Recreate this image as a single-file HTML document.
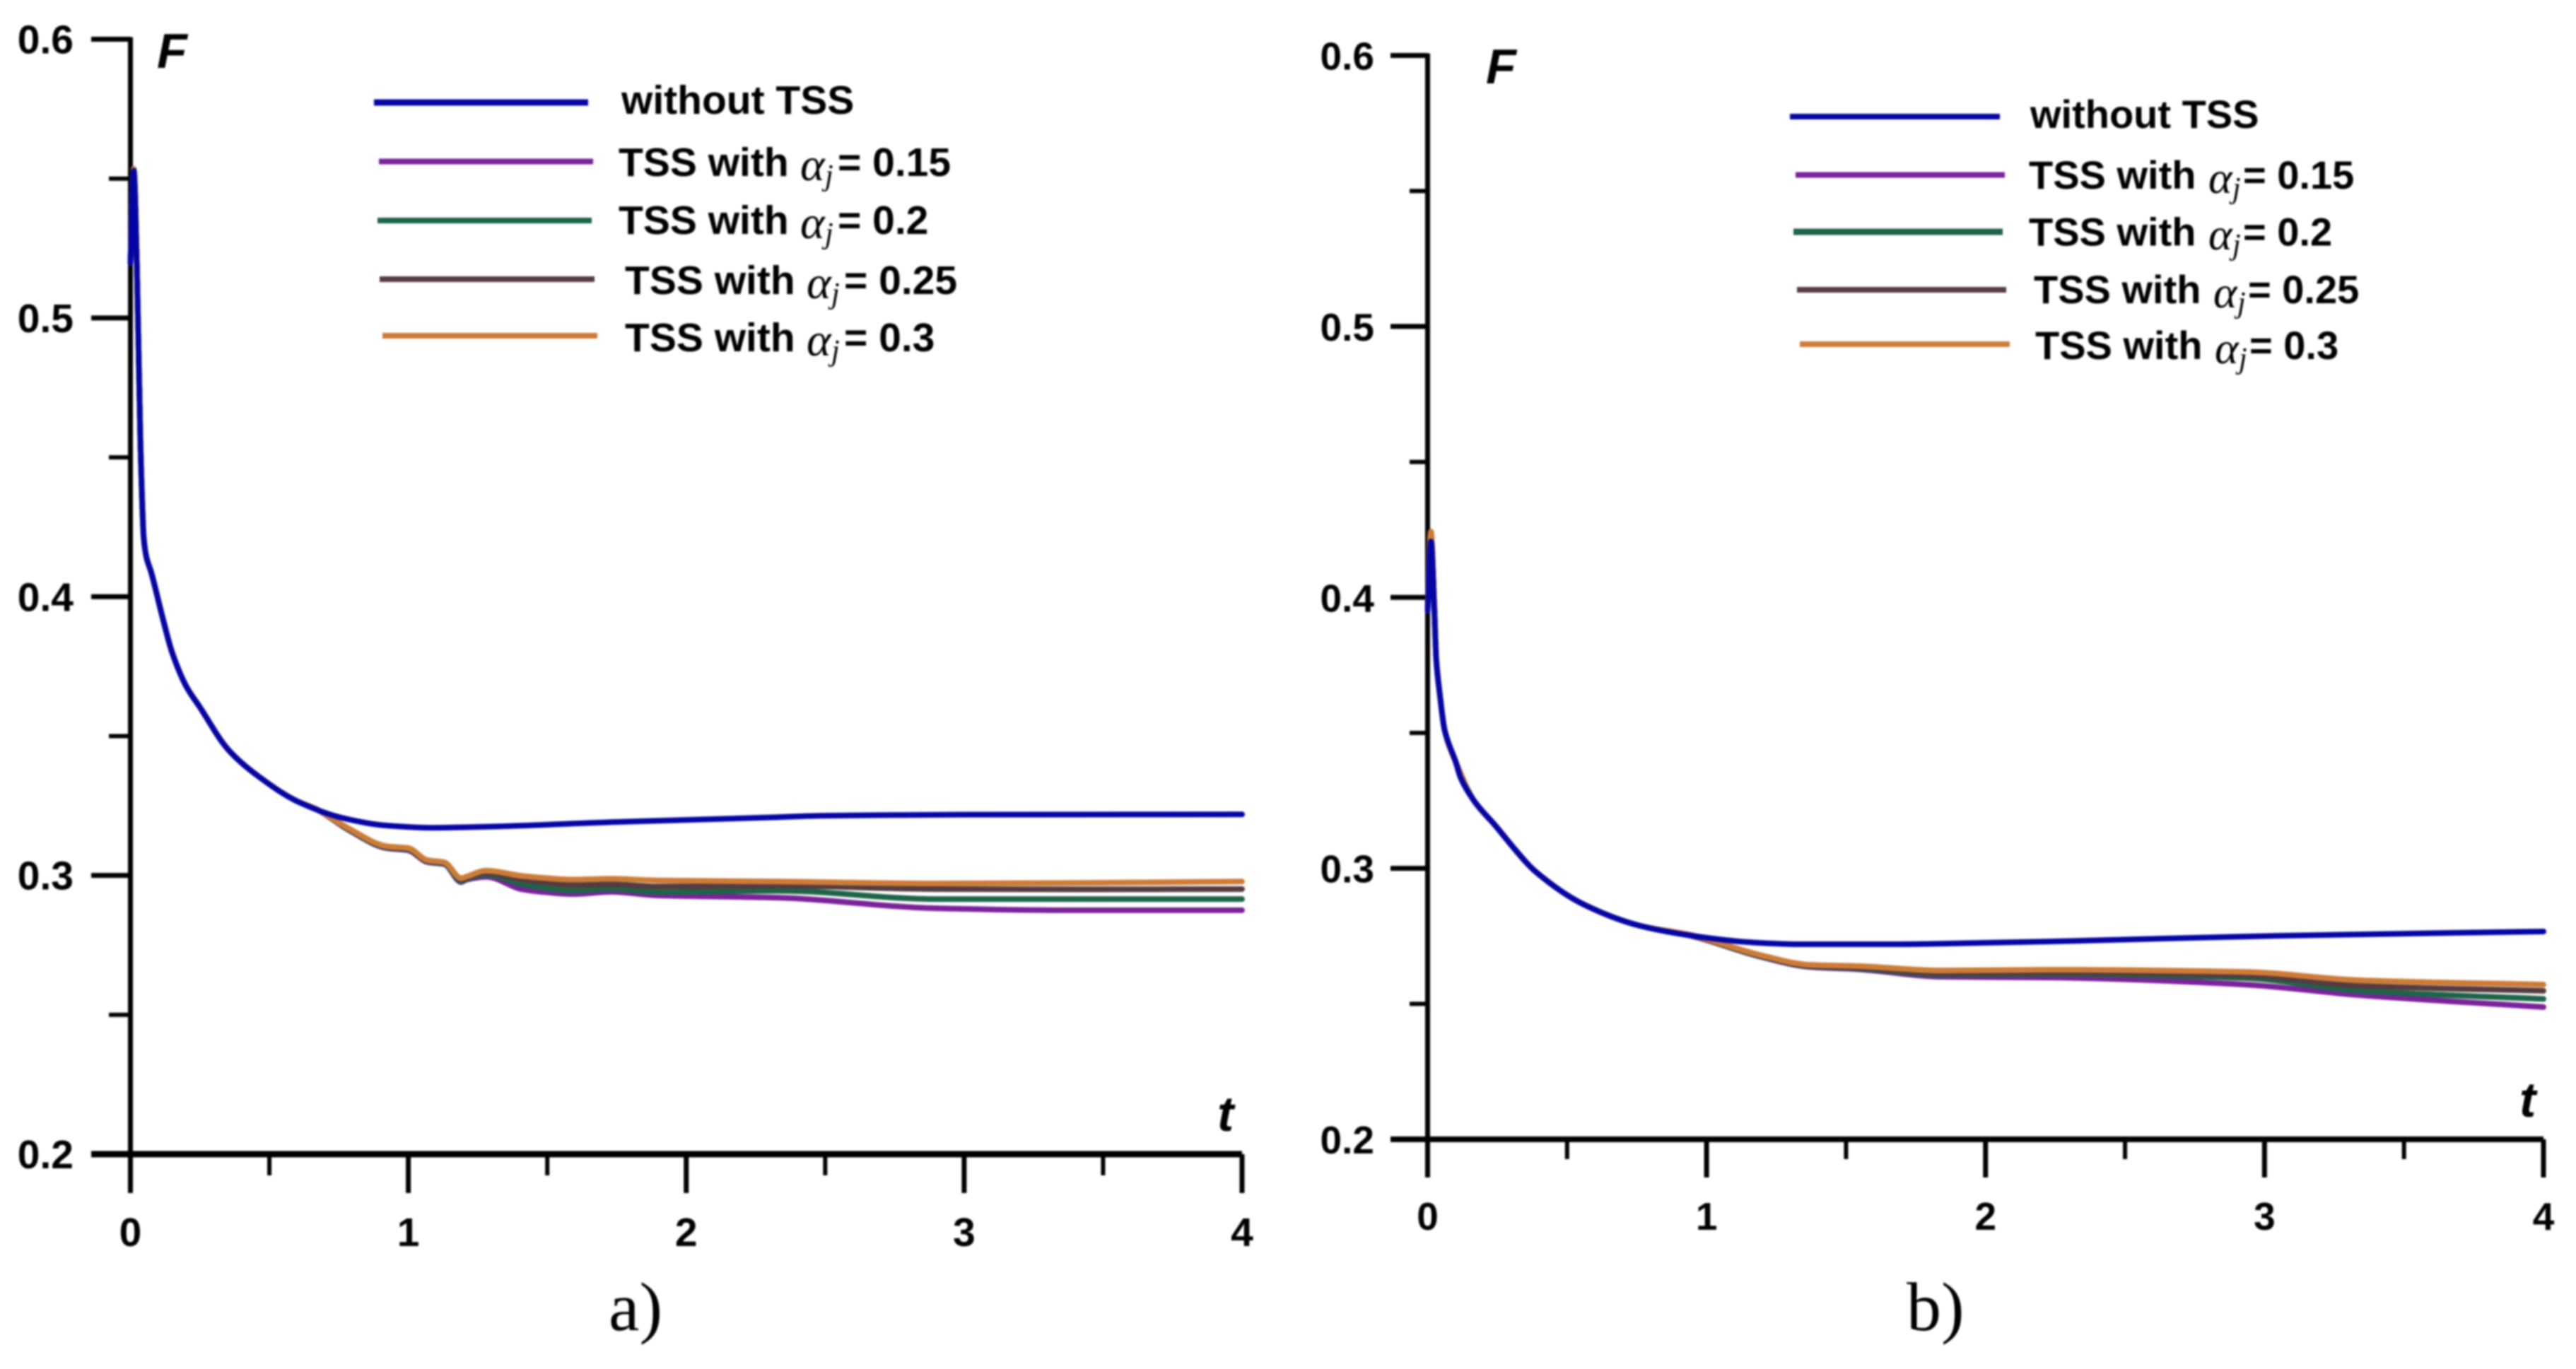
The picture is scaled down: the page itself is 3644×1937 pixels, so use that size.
<!DOCTYPE html>
<html lang="en">
<head>
<meta charset="utf-8">
<title>F versus t, with and without TSS</title>
<style>
html,body{margin:0;padding:0;background:#fff;}
#figure{display:block;width:3644px;height:1937px;filter:blur(1.2px);}
.sans{font-family:"Liberation Sans",Arial,sans-serif;font-weight:bold;fill:#000;}
.greek{font-family:"Liberation Serif","DejaVu Serif",serif;font-style:italic;font-weight:normal;fill:#000;}
.cap{font-family:"Liberation Serif",serif;font-weight:normal;fill:#000;font-size:98px;}
.axis-title{font-family:"Liberation Sans",Arial,sans-serif;font-weight:bold;font-style:italic;fill:#000;font-size:70px;}
</style>
</head>
<body>
<svg id="figure" xmlns="http://www.w3.org/2000/svg" width="3644" height="1937" viewBox="0 0 3644 1937">
  <rect x="0" y="0" width="3644" height="1937" fill="#fff"/>
  <g id="panel-a">
    <g id="panel-a-marks"></g>
    <text class="axis-title" x="222" y="96">F</text>
    <text class="axis-title" x="1722" y="1600">t</text>
    <g font-size="57">
      <line x1="529" x2="832" y1="145" y2="145" stroke="#0505a5" stroke-width="9"/>
      <line x1="536" x2="839" y1="228.5" y2="228.5" stroke="#7a2299" stroke-width="8"/>
      <line x1="534" x2="837" y1="312" y2="312" stroke="#1e6448" stroke-width="8"/>
      <line x1="537" x2="841" y1="395" y2="395" stroke="#553c40" stroke-width="8"/>
      <line x1="541" x2="845" y1="475" y2="475" stroke="#cd7c38" stroke-width="8"/>
      <text class="sans" x="879" y="161">without TSS</text>
      <text class="sans" x="875" y="249">TSS with <tspan class="greek" x="1132" y="255" font-size="66">α</tspan><tspan class="greek" x="1167" y="262" font-size="42">j</tspan><tspan x="1185" y="249">= 0.15</tspan></text>
      <text class="sans" x="875" y="331">TSS with <tspan class="greek" x="1132" y="337" font-size="66">α</tspan><tspan class="greek" x="1167" y="344" font-size="42">j</tspan><tspan x="1185" y="331">= 0.2</tspan></text>
      <text class="sans" x="884" y="416">TSS with <tspan class="greek" x="1141" y="422" font-size="66">α</tspan><tspan class="greek" x="1176" y="429" font-size="42">j</tspan><tspan x="1194" y="416">= 0.25</tspan></text>
      <text class="sans" x="884" y="497">TSS with <tspan class="greek" x="1141" y="503" font-size="66">α</tspan><tspan class="greek" x="1176" y="510" font-size="42">j</tspan><tspan x="1194" y="497">= 0.3</tspan></text>
    </g>
    <text class="cap" x="861" y="1882">a)</text>
  </g>
  <g id="panel-b">
    <g id="panel-b-marks"></g>
    <text class="axis-title" x="2102" y="118">F</text>
    <text class="axis-title" x="3564" y="1580">t</text>
    <g font-size="56">
      <line x1="2532" x2="2829" y1="165" y2="165" stroke="#0505a5" stroke-width="8"/>
      <line x1="2540" x2="2836" y1="247.5" y2="247.5" stroke="#7a2299" stroke-width="8"/>
      <line x1="2537" x2="2833" y1="328" y2="328" stroke="#1e6448" stroke-width="9"/>
      <line x1="2542" x2="2838" y1="410" y2="410" stroke="#553c40" stroke-width="8"/>
      <line x1="2546" x2="2843" y1="487" y2="487" stroke="#cd7c38" stroke-width="8"/>
      <text class="sans" x="2872" y="181">without TSS</text>
      <text class="sans" x="2870" y="267">TSS with <tspan class="greek" x="3124" y="273" font-size="64">α</tspan><tspan class="greek" x="3158" y="280" font-size="42">j</tspan><tspan x="3173" y="267">= 0.15</tspan></text>
      <text class="sans" x="2870" y="347.5">TSS with <tspan class="greek" x="3124" y="353" font-size="64">α</tspan><tspan class="greek" x="3158" y="360" font-size="42">j</tspan><tspan x="3173" y="347.5">= 0.2</tspan></text>
      <text class="sans" x="2877" y="429">TSS with <tspan class="greek" x="3131" y="435" font-size="64">α</tspan><tspan class="greek" x="3165" y="442" font-size="42">j</tspan><tspan x="3180" y="429">= 0.25</tspan></text>
      <text class="sans" x="2879" y="508">TSS with <tspan class="greek" x="3133" y="514" font-size="64">α</tspan><tspan class="greek" x="3167" y="521" font-size="42">j</tspan><tspan x="3182" y="508">= 0.3</tspan></text>
    </g>
    <text class="cap" x="2697" y="1882">b)</text>
  </g>
</svg>
<script>
// Shared axis values
const yMajorTicks = [0.2, 0.3, 0.4, 0.5, 0.6];
const yMinorTicks = [0.25, 0.35, 0.45, 0.55];
const yTickLabels = ['0.2', '0.3', '0.4', '0.5', '0.6'];
const xMajorTicks = [0, 1, 2, 3, 4];
const xMinorTicks = [0.5, 1.5, 2.5, 3.5];
const xTickLabels = ['0', '1', '2', '3', '4'];

// Panel a: without TSS
const tBlueA = [0, 0.012, 0.023, 0.036, 0.048, 0.058, 0.074, 0.117, 0.15, 0.2, 0.249, 0.353, 0.468, 0.598, 0.76, 0.92, 1.083, 1.327, 1.73, 2.33, 2.48, 3.0, 4.0];
const fBlueA = [0.5196, 0.5528, 0.52, 0.455, 0.421, 0.414, 0.409, 0.392, 0.38, 0.368, 0.3605, 0.345, 0.335, 0.3267, 0.3207, 0.3179, 0.3171, 0.3176, 0.3191, 0.3209, 0.3214, 0.3218, 0.3219];

// Panel a: TSS series
const tTssA = [0, 0.012, 0.023, 0.036, 0.048, 0.058, 0.074, 0.117, 0.15, 0.2, 0.249, 0.353, 0.468, 0.598, 0.67, 0.79, 0.92, 1.0, 1.068, 1.13, 1.19, 1.21, 1.28, 1.41, 1.49, 1.59, 1.73, 1.9, 2.33, 2.9, 3.4, 4.0];
const fPurpleA = [0.52, 0.553, 0.52, 0.455, 0.421, 0.414, 0.409, 0.392, 0.38, 0.368, 0.3605, 0.345, 0.335, 0.3267, 0.3237, 0.3160, 0.3098, 0.3090, 0.3048, 0.3040, 0.2976, 0.2985, 0.2995, 0.295, 0.294, 0.2933, 0.2941, 0.2928, 0.292, 0.2882, 0.2875, 0.2875];
const fGreenA = [0.52, 0.553, 0.52, 0.455, 0.421, 0.414, 0.409, 0.392, 0.38, 0.368, 0.3605, 0.345, 0.335, 0.3267, 0.3237, 0.3162, 0.3100, 0.3093, 0.3050, 0.3042, 0.298, 0.2988, 0.3002, 0.2968, 0.2955, 0.2945, 0.2952, 0.294, 0.2945, 0.2915, 0.2915, 0.2915];
const fBrownA = [0.52, 0.5532, 0.52, 0.455, 0.421, 0.414, 0.409, 0.392, 0.38, 0.368, 0.3605, 0.345, 0.335, 0.3267, 0.3237, 0.3164, 0.3103, 0.3095, 0.3052, 0.3045, 0.2985, 0.2992, 0.3008, 0.2985, 0.2975, 0.2965, 0.2968, 0.296, 0.2963, 0.2951, 0.295, 0.2951];
const fOrangeA = [0.52, 0.5535, 0.52, 0.455, 0.421, 0.414, 0.409, 0.392, 0.38, 0.368, 0.3605, 0.345, 0.335, 0.3267, 0.3237, 0.3166, 0.3105, 0.3098, 0.3055, 0.3047, 0.299, 0.2996, 0.3017, 0.2998, 0.2991, 0.2985, 0.2988, 0.2982, 0.2978, 0.2971, 0.2973, 0.2978];

// Panel b: without TSS
const tBlueB = [0, 0.012, 0.024, 0.031, 0.044, 0.061, 0.1, 0.118, 0.166, 0.241, 0.31, 0.387, 0.561, 0.765, 0.97, 1.158, 1.332, 1.698, 1.99, 2.23, 3.04, 4.0];
const fBlueB = [0.395, 0.4206, 0.395, 0.377, 0.364, 0.351, 0.3395, 0.3335, 0.325, 0.316, 0.3074, 0.2988, 0.2866, 0.2787, 0.2748, 0.2727, 0.272, 0.272, 0.2725, 0.273, 0.2751, 0.2767];

// Panel b: TSS series
const tTssB = [0, 0.012, 0.024, 0.031, 0.044, 0.061, 0.1, 0.166, 0.241, 0.387, 0.561, 0.765, 0.94, 1.2, 1.37, 1.55, 1.84, 2.23, 2.93, 3.34, 4.0];
const fPurpleB = [0.397, 0.423, 0.397, 0.377, 0.364, 0.351, 0.3395, 0.325, 0.316, 0.2988, 0.2866, 0.2787, 0.2752, 0.2672, 0.2636, 0.2627, 0.26, 0.2597, 0.2571, 0.2532, 0.2488];
const fGreenB = [0.397, 0.423, 0.397, 0.377, 0.364, 0.351, 0.3395, 0.325, 0.316, 0.2988, 0.2866, 0.2787, 0.2753, 0.2673, 0.2638, 0.263, 0.2607, 0.2609, 0.2595, 0.2548, 0.2518];
const fBrownB = [0.397, 0.4235, 0.397, 0.377, 0.364, 0.351, 0.3395, 0.325, 0.316, 0.2988, 0.2866, 0.2787, 0.2754, 0.2675, 0.264, 0.2633, 0.2612, 0.2614, 0.2605, 0.2566, 0.2548];
const fOrangeB = [0.397, 0.4243, 0.397, 0.377, 0.364, 0.351, 0.3395, 0.325, 0.316, 0.2988, 0.2866, 0.2787, 0.2755, 0.2678, 0.2644, 0.2639, 0.2623, 0.2626, 0.2618, 0.2587, 0.2571];

const SVG_NS = 'http://www.w3.org/2000/svg';

function makeLine(parent, x1, y1, x2, y2, width) {
  const el = document.createElementNS(SVG_NS, 'line');
  el.setAttribute('x1', x1);
  el.setAttribute('y1', y1);
  el.setAttribute('x2', x2);
  el.setAttribute('y2', y2);
  el.setAttribute('stroke', '#000');
  el.setAttribute('stroke-width', width);
  parent.appendChild(el);
  return el;
}

function makeLabel(parent, x, y, text, anchor, size) {
  const el = document.createElementNS(SVG_NS, 'text');
  el.setAttribute('class', 'sans');
  el.setAttribute('x', x);
  el.setAttribute('y', y);
  el.setAttribute('text-anchor', anchor);
  el.setAttribute('font-size', size);
  el.textContent = text;
  parent.appendChild(el);
  return el;
}

// Smooth path through the projected points (monotone cubic, so no overshoot).
function smoothPath(px, py) {
  const n = px.length;
  const slope = [];
  for (let i = 0; i < n - 1; i++) {
    slope.push((py[i + 1] - py[i]) / (px[i + 1] - px[i]));
  }
  const m = [slope[0]];
  for (let i = 1; i < n - 1; i++) {
    const a = slope[i - 1];
    const b = slope[i];
    m.push(a * b <= 0 ? 0 : 2 * a * b / (a + b));
  }
  m.push(slope[n - 2]);
  let d = 'M' + px[0].toFixed(2) + ' ' + py[0].toFixed(2);
  for (let i = 0; i < n - 1; i++) {
    const h = (px[i + 1] - px[i]) / 3;
    d += ' C' + (px[i] + h).toFixed(2) + ' ' + (py[i] + m[i] * h).toFixed(2) +
      ' ' + (px[i + 1] - h).toFixed(2) + ' ' + (py[i + 1] - m[i + 1] * h).toFixed(2) +
      ' ' + px[i + 1].toFixed(2) + ' ' + py[i + 1].toFixed(2);
  }
  return d;
}

function drawPanel(parent, geo, series) {
  const sx = function (t) { return geo.x0 + (t / 4) * (geo.x4 - geo.x0); };
  const yOf = function (f) { return geo.y02 - ((f - 0.2) / 0.4) * (geo.y02 - geo.y06); };

  const yAxis = makeLine(parent, sx(0), yOf(0.6) - 3, sx(0), yOf(0.2), 7);
  
  

  yMajorTicks.forEach(function (v, i) {
    const isBase = v === 0.2;
    const tick = makeLine(parent, geo.majorLeft, yOf(v), sx(0), yOf(v), isBase ? 6 : 7);
    
    
    const label = makeLabel(parent, geo.yLabelX, yOf(v) + 20, yTickLabels[i], 'end', geo.font);
    
    
  });
  yMinorTicks.forEach(function (v) {
    const tick = makeLine(parent, geo.minorLeft, yOf(v), sx(0), yOf(v), 6);
    
    
  });

  const xAxis = makeLine(parent, geo.majorLeft, yOf(0.2), sx(4), yOf(0.2), geo.xAxisWidth);
  
  

  xMajorTicks.forEach(function (v, i) {
    const tick = makeLine(parent, sx(v), yOf(0.2), sx(v), geo.majorBottom, 7);
    
    
    const label = makeLabel(parent, sx(v), geo.xLabelY, xTickLabels[i], 'middle', geo.font);
    
    
  });
  xMinorTicks.forEach(function (v) {
    const tick = makeLine(parent, sx(v), yOf(0.2), sx(v), geo.minorBottom, 6);
    
    
  });

  series.forEach(function (s) {
    const path = document.createElementNS(SVG_NS, 'path');
    path.setAttribute('d', smoothPath(s.t.map(sx), s.f.map(yOf)));
    path.setAttribute('fill', 'none');
    path.setAttribute('stroke', s.color);
    path.setAttribute('stroke-width', s.width);
    path.setAttribute('stroke-linejoin', 'round');
    path.setAttribute('stroke-linecap', 'round');
    
    
    parent.appendChild(path);
  });
}

drawPanel(document.getElementById('panel-a-marks'),
  { x0: 184.5, x4: 1757, y02: 1633, y06: 55.5, majorLeft: 129, minorLeft: 154, majorBottom: 1688, minorBottom: 1663, yLabelX: 104, xLabelY: 1763, font: 57, xAxisWidth: 9 },
  [
    { name: 'series-a-tss-015', t: tTssA, f: fPurpleA, color: '#7a2299', width: 8 },
    { name: 'series-a-tss-02', t: tTssA, f: fGreenA, color: '#1e6448', width: 8 },
    { name: 'series-a-tss-025', t: tTssA, f: fBrownA, color: '#553c40', width: 8 },
    { name: 'series-a-tss-03', t: tTssA, f: fOrangeA, color: '#cd7c38', width: 8 },
    { name: 'series-a-without-tss', t: tBlueA, f: fBlueA, color: '#0505a5', width: 8 }
  ]);

drawPanel(document.getElementById('panel-b-marks'),
  { x0: 2019.5, x4: 3598, y02: 1612, y06: 78.5, majorLeft: 1967, minorLeft: 1994, majorBottom: 1666, minorBottom: 1640, yLabelX: 1944, xLabelY: 1740, font: 55, xAxisWidth: 8 },
  [
    { name: 'series-b-tss-015', t: tTssB, f: fPurpleB, color: '#7a2299', width: 8 },
    { name: 'series-b-tss-02', t: tTssB, f: fGreenB, color: '#1e6448', width: 8 },
    { name: 'series-b-tss-025', t: tTssB, f: fBrownB, color: '#553c40', width: 8 },
    { name: 'series-b-tss-03', t: tTssB, f: fOrangeB, color: '#cd7c38', width: 8 },
    { name: 'series-b-without-tss', t: tBlueB, f: fBlueB, color: '#0505a5', width: 8 }
  ]);
</script>
</body>
</html>
